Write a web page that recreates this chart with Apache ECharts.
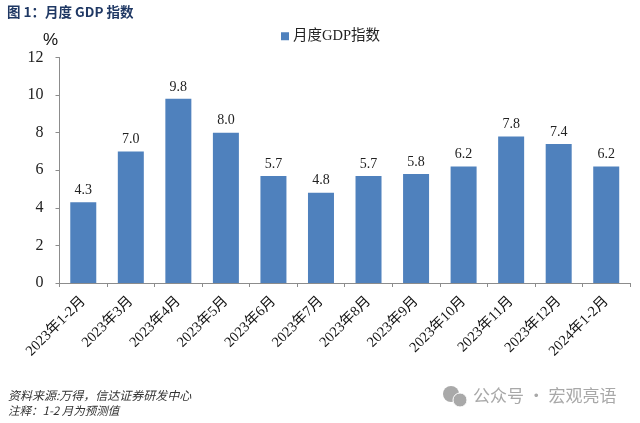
<!DOCTYPE html>
<html><head><meta charset="utf-8">
<style>html,body{margin:0;padding:0;background:#fff}#c{width:640px;height:423px}</style>
<script src="https://cdn.jsdelivr.net/npm/echarts@6/dist/echarts.min.js"></script>
</head><body><div id="c"></div>
<script>
const categories = ['2023年1-2月','2023年3月','2023年4月','2023年5月','2023年6月','2023年7月','2023年8月','2023年9月','2023年10月','2023年11月','2023年12月','2024年1-2月'];
const values = [4.3,7.0,9.8,8.0,5.7,4.8,5.7,5.8,6.2,7.8,7.4,6.2];
const seriesName = '月度GDP指数';
const yTicks = {min:0,max:12,interval:2};
const serif = '"Liberation Serif","Noto Sans CJK SC",serif';
const chart = echarts.init(document.getElementById('c'),null,{renderer:'canvas'});
chart.setOption({
  animation:false,
  backgroundColor:'#fff',
  grid:{left:59.5,right:10,top:57.5,bottom:140,containLabel:false},
  legend:{show:true,top:24,left:276,itemWidth:8,itemHeight:8,icon:'rect',itemGap:4,
    textStyle:{fontFamily:serif,fontSize:14.5,color:'#222',padding:[0,0,0,-1]}},
  xAxis:{type:'category',data:categories,boundaryGap:true,
    axisLine:{lineStyle:{color:'#8c8c8c',width:1}},
    axisTick:{show:true,alignWithLabel:false,length:4,lineStyle:{color:'#8c8c8c'},inside:false},
    axisLabel:{interval:0,rotate:45,fontFamily:serif,fontSize:14.5,color:'#111',margin:16}},
  yAxis:{type:'value',min:yTicks.min,max:yTicks.max,interval:yTicks.interval,
    splitLine:{show:false},
    axisLine:{show:true,lineStyle:{color:'#8c8c8c',width:1}},
    axisTick:{show:true,length:4,lineStyle:{color:'#8c8c8c'}},
    axisLabel:{fontFamily:serif,fontSize:16,color:'#222',margin:16}},
  series:[{name:seriesName,type:'bar',data:values,barWidth:26,
    itemStyle:{color:'#4f81bd'},
    label:{show:true,position:'top',distance:5,formatter:p=>p.value.toFixed(1),fontFamily:serif,fontSize:14,color:'#222'}}],
  graphic:[
    {type:'text',left:7,top:5,style:{text:'图 1：月度 GDP 指数',font:'bold 13.5px "Noto Sans CJK SC","Liberation Sans",sans-serif',fill:'#1f3864'}},
    {type:'text',left:43,top:32,style:{text:'%',font:'17px "Liberation Sans",sans-serif',fill:'#111'}},
    {type:'text',left:8,top:389,style:{text:'资料来源:万得，信达证券研发中心',font:'italic 12px "Noto Sans CJK SC",sans-serif',fill:'#333'}},
    {type:'text',left:8,top:405,style:{text:'注释：1-2 月为预测值',font:'italic 11.5px "Noto Sans CJK SC",sans-serif',fill:'#333'}},
    {type:'circle',shape:{cx:451,cy:394,r:8},style:{fill:'#a9a9a9'}},
    {type:'circle',shape:{cx:460,cy:400,r:7},style:{fill:'#a9a9a9',stroke:'#fff',lineWidth:1}},
    {type:'text',left:473,top:387,style:{text:'公众号 · 宏观亮语',font:'17px "Noto Sans CJK SC",sans-serif',fill:'#a8a8a8'}}
  ]
});
</script></body></html>
